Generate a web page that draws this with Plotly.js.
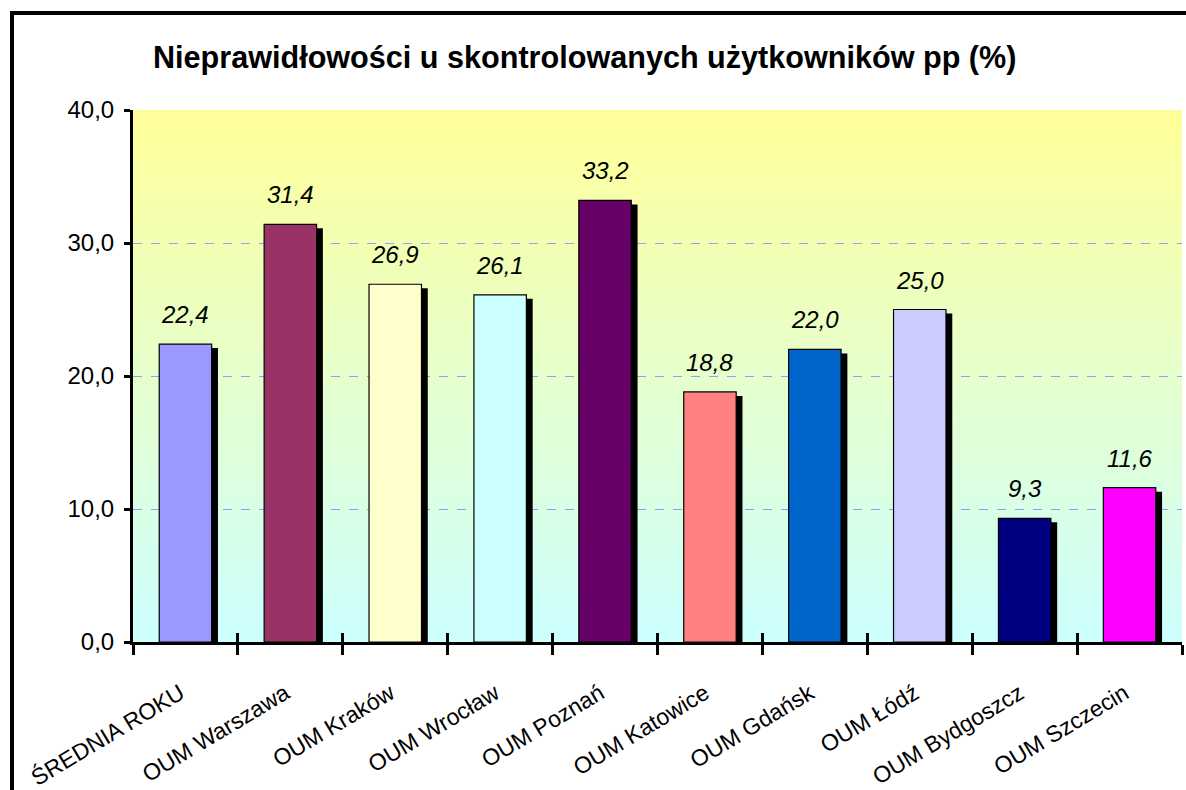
<!DOCTYPE html>
<html>
<head>
<meta charset="utf-8">
<script src="https://cdn.plot.ly/plotly-3.0.1.min.js"></script>
<style>
html,body{margin:0;padding:0;background:#fff;overflow:hidden;}
#chart{position:absolute;left:0;top:0;width:1186px;height:790px;}
#frame{position:absolute;left:10px;top:11px;width:1300px;height:900px;border:4px solid #000;pointer-events:none;box-sizing:border-box;}
</style>
</head>
<body>
<div id="chart"></div>
<div id="frame"></div>
<script>
const categories = ["ŚREDNIA ROKU","OUM Warszawa","OUM Kraków","OUM Wrocław","OUM Poznań","OUM Katowice","OUM Gdańsk","OUM Łódź","OUM Bydgoszcz","OUM Szczecin"];
const values = [22.4, 31.4, 26.9, 26.1, 33.2, 18.8, 22.0, 25.0, 9.3, 11.6];
const barColors = ["#9999FF","#993366","#FFFFCC","#CCFFFF","#660066","#FF8080","#0066CC","#CCCCFF","#000080","#FF00FF"];
const yTicks = [0, 10, 20, 30, 40];
const titleText = "Nieprawidłowości u skontrolowanych użytkowników pp (%)";

const fmt = v => v.toFixed(1).replace('.', ',');

// shadow trace derived from the data (offset slightly right & down)
const shadowVals = values.map(v => v - 0.3);

const shadow = {
  type: 'bar', x: categories, y: shadowVals,
  marker: {color: '#000000', line: {width: 0}},
  width: 0.5, offset: -0.19,
  hoverinfo: 'skip', showlegend: false
};
const bars = {
  type: 'bar', x: categories, y: values,
  marker: {color: barColors, line: {color: '#000000', width: 1.2}},
  width: 0.5, offset: -0.25,
  showlegend: false
};
// second axis for tick marks crossing the x axis line
const tickHelper = {
  type: 'scatter', x: categories, y: values, xaxis: 'x2', yaxis: 'y',
  mode: 'markers', marker: {opacity: 0}, hoverinfo: 'skip', showlegend: false
};

const gradSvg = '<svg xmlns="http://www.w3.org/2000/svg" width="10" height="100" preserveAspectRatio="none">' +
  '<defs><linearGradient id="g" x1="0" y1="0" x2="0" y2="1">' +
  '<stop offset="0" stop-color="#FFFF99"/><stop offset="1" stop-color="#CCFFFF"/>' +
  '</linearGradient></defs><rect width="10" height="100" fill="url(#g)"/></svg>';
const gradUri = 'data:image/svg+xml;base64,' + btoa(gradSvg);

const annotations = categories.map((c, i) => ({
  x: c, y: values[i], xref: 'x', yref: 'y',
  text: '<i>' + fmt(values[i]) + '</i>', showarrow: false,
  yanchor: 'bottom', yshift: 14,
  font: {family: 'Liberation Sans, Arial, sans-serif', size: 24, color: '#000'}
}));

const layout = {
  width: 1186, height: 790,
  margin: {l: 133, r: 4, t: 110, b: 148},
  paper_bgcolor: '#FFFFFF',
  plot_bgcolor: 'rgba(0,0,0,0)',
  barmode: 'overlay',
  separators: ',.',
  title: {
    text: '<b>' + titleText + '</b>',
    x: 0.493, xanchor: 'center', xref: 'container',
    y: 0.927, yanchor: 'middle', yref: 'container',
    font: {family: 'Liberation Sans, Arial, sans-serif', size: 30.6, color: '#000'}
  },
  font: {family: 'Liberation Sans, Arial, sans-serif', color: '#000'},
  xaxis: {
    type: 'category',
    showline: true, linecolor: '#000', linewidth: 3,
    ticks: 'outside', ticklen: 10, tickwidth: 3, tickcolor: '#000',
    tickson: 'boundaries',
    tickangle: -31,
    ticklabelstandoff: 26,
    ticklabelshift: -5,
    tickfont: {size: 23, color: '#000'},
    showgrid: false, zeroline: false,
    range: [-0.5, 9.5]
  },
  xaxis2: {
    type: 'category', overlaying: 'x', matches: 'x', side: 'bottom',
    showline: false, ticks: 'inside', ticklen: 9, tickwidth: 3, tickcolor: '#000',
    tickson: 'boundaries', showticklabels: false, showgrid: false, zeroline: false
  },
  yaxis: {
    range: [0, 40], tickvals: yTicks, ticktext: yTicks.map(fmt),
    showline: true, linecolor: '#000', linewidth: 3,
    ticks: 'outside', ticklen: 6, tickwidth: 3, tickcolor: '#000',
    ticklabelstandoff: 5,
    tickfont: {size: 24, color: '#000'},
    showgrid: true, gridcolor: '#9999FF', gridwidth: 1, griddash: 'dash',
    zeroline: false
  },
  images: [{
    source: gradUri, xref: 'paper', yref: 'paper',
    x: 0, y: 1, sizex: 1, sizey: 1, sizing: 'stretch',
    xanchor: 'left', yanchor: 'top', layer: 'below'
  }],
  annotations: annotations
};

Plotly.newPlot('chart', [shadow, bars, tickHelper], layout, {displayModeBar: false, staticPlot: true});
</script>
</body>
</html>
